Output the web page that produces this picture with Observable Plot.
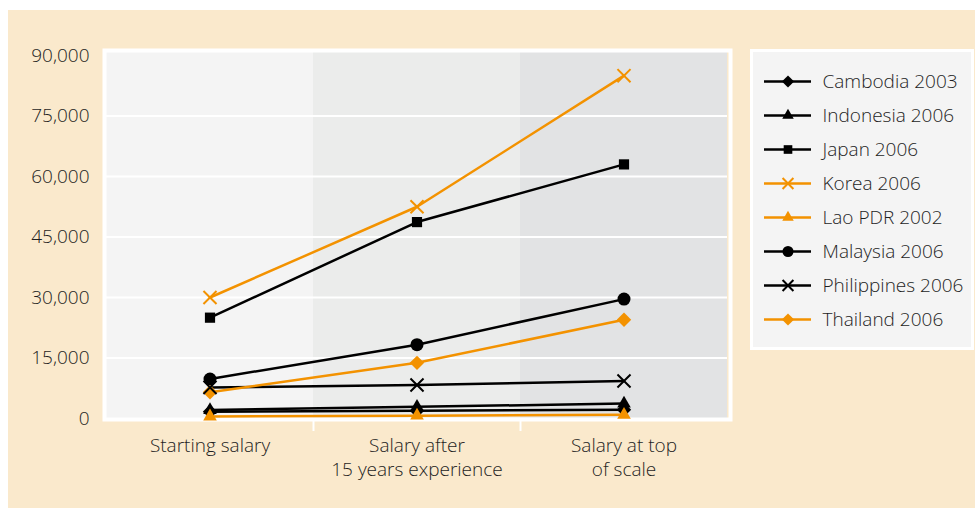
<!DOCTYPE html>
<html>
<head>
<meta charset="utf-8">
<script src="https://cdn.jsdelivr.net/npm/d3@7"></script>
<script src="https://cdn.jsdelivr.net/npm/@observablehq/plot@0.6"></script>
<style>
  html, body { margin: 0; padding: 0; background: #ffffff; }
  #wrap { position: relative; width: 980px; height: 508px; background: #ffffff; overflow: hidden; }
  #chart { position: absolute; left: 8px; top: 10px; }
  #legend { position: absolute; left: 750px; top: 49px; background: #f4f4f4; border: 3px solid #ffffff; }
  svg text { font-family: "Open Sans", "Noto Sans", sans-serif; font-weight: 300; }
</style>
</head>
<body>
<div id="wrap">
  <div id="chart"></div>
  <div id="legend"></div>
</div>
<script>
// Career stages along the x axis
const stages = ["Starting salary", "Salary after\n15 years experience", "Salary at top\nof scale"];

// Country series, in legend order
const countries = [
  "Cambodia 2003", "Indonesia 2006", "Japan 2006", "Korea 2006",
  "Lao PDR 2002", "Malaysia 2006", "Philippines 2006", "Thailand 2006"
];

// Annual teacher salaries for each stage
const cambodia = [1700, 1900, 2200];
const indonesia = [2100, 2900, 3700];
const japan = [25000, 48700, 63000];
const korea = [30000, 52500, 85000];
const lao = [500, 700, 900];
const malaysia = [9800, 18300, 29600];
const philippines = [7700, 8300, 9300];
const thailand = [6500, 13800, 24500];

// Y axis ticks
const yTicks = [0, 15000, 30000, 45000, 60000, 75000, 90000];

// Styling per series
const BLACK = "#000000", ORANGE = "#f39200";
const seriesColors = [BLACK, BLACK, BLACK, ORANGE, ORANGE, BLACK, BLACK, ORANGE];
const seriesSymbols = ["diamond2", "triangle2", "square2", "times", "triangle2", "circle", "times", "diamond2"];
const bandFills = ["#f4f4f4", "#ebeceb", "#e2e3e4"];
const FONT = "'Open Sans', 'Noto Sans', sans-serif";
const TEXT = "#1e1e1e";

const seriesValues = [cambodia, indonesia, japan, korea, lao, malaysia, philippines, thailand];
const rows = countries.flatMap((country, i) =>
  stages.map((stage, j) => ({country, stage, salary: seriesValues[i][j]}))
);
const crossSeries = new Set(countries.filter((c, i) => seriesSymbols[i] === "times"));
const filledRows = rows.filter(d => !crossSeries.has(d.country));
const crossRows = rows.filter(d => crossSeries.has(d.country));

const W = 967, H = 498;
const mL = 98, mR = 248, mT = 45, mB = 90;
const bandW = (W - mL - mR) / stages.length;
const innerH = H - mT - mB;

const colorScale = {domain: countries, range: seriesColors};
const symbolScale = {domain: countries, range: seriesSymbols};

const chart = Plot.plot({
  width: W,
  height: H,
  marginLeft: mL,
  marginRight: mR,
  marginTop: mT,
  marginBottom: mB,
  style: {background: "#fae9cc", fontFamily: FONT, fontSize: "19px", color: TEXT, overflow: "visible"},
  x: {type: "band", domain: stages, padding: 0},
  y: {domain: [0, 90000]},
  color: colorScale,
  symbol: symbolScale,
  marks: [
    // shaded background band per stage
    Plot.barY(stages, {x: d => d, y1: 0, y2: yTicks[yTicks.length - 1], fill: (d, i) => bandFills[i], insetTop: -3}),
    // white gridlines
    Plot.ruleY(yTicks.slice(1, -1), {stroke: "#ffffff", strokeWidth: 2}),
    // white border around the plotting area
    Plot.frame({stroke: "#ffffff", strokeWidth: 4, insetLeft: -2, insetRight: -3, insetTop: -5, insetBottom: -1}),
    // separators below the axis between stages
    Plot.ruleX(stages.slice(1), {x: d => d, dx: -bandW / 2, stroke: "#ffffff", strokeWidth: 2, insetTop: innerH, insetBottom: -13}),
    Plot.axisY({ticks: yTicks, tickSize: 0, tickPadding: 17, tickFormat: d3.format(","), label: null, fontSize: 19, fill: TEXT}),
    Plot.axisX({tickSize: 0, tickPadding: 17, label: null, fontSize: 19, lineHeight: 1.25, fill: TEXT}),
    // salary lines
    Plot.line(rows, {x: "stage", y: "salary", z: "country", stroke: "country", strokeWidth: 2.5}),
    Plot.dot(filledRows, {x: "stage", y: "salary", symbol: "country", fill: "country", stroke: "none", r: 6.5}),
    Plot.dot(crossRows, {x: "stage", y: "salary", symbol: "country", stroke: "country", fill: "none", strokeWidth: 2, r: 6})
  ]
});
document.getElementById("chart").appendChild(chart);

// Legend: one swatch row per country
const LW = 218, LH = 295;
const legend = Plot.plot({
  width: LW,
  height: LH,
  marginLeft: 11,
  marginRight: LW - 58,
  marginTop: 29,
  marginBottom: 28,
  style: {background: "#f4f4f4", fontFamily: FONT, fontSize: "19px", color: TEXT, overflow: "visible"},
  x: {domain: [0, 1], axis: null},
  y: {type: "point", domain: countries, padding: 0, axis: null},
  color: colorScale,
  symbol: symbolScale,
  marks: [
    Plot.ruleY(countries, {y: d => d, x1: 0, x2: 1, stroke: d => d, strokeWidth: 2.5}),
    Plot.dot(countries.filter(c => !crossSeries.has(c)), {y: d => d, x: 0.5, symbol: d => d, fill: d => d, stroke: "none", r: 5.5}),
    Plot.dot(countries.filter(c => crossSeries.has(c)), {y: d => d, x: 0.5, symbol: d => d, stroke: d => d, fill: "none", strokeWidth: 2, r: 5}),
    Plot.text(countries, {y: d => d, x: 1, dx: 11, text: d => d, textAnchor: "start", fill: TEXT, fontSize: 19})
  ]
});
document.getElementById("legend").appendChild(legend);
</script>
</body>
</html>
